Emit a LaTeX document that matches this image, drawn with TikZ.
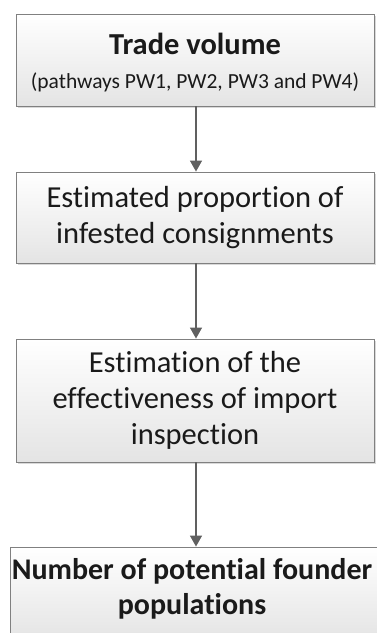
\documentclass[tikz,border=0pt]{standalone}
\usepackage{fontspec}
\setmainfont{Carlito}[Ligatures=NoCommon]
\usetikzlibrary{arrows.meta,shadows}
\definecolor{boxline}{HTML}{808080}
\definecolor{arrowc}{HTML}{606060}
\definecolor{boxbot}{HTML}{E4E4E4}
\definecolor{txt}{HTML}{1A1A1A}
\tikzset{
  stepbox/.style={draw=boxline, line width=0.9pt, top color=white, bottom color=boxbot,
    minimum width=358pt, inner sep=0pt, text=txt, align=center,
    drop shadow={shadow xshift=1.5pt, shadow yshift=-1.5pt, fill=black, opacity=0.15}},
  flow/.style={draw=arrowc, line width=1.4pt, -{Triangle[width=12pt,length=11pt]}},
  big/.style={font=\fontsize{30.5}{36}\selectfont}
}
\begin{document}
\begin{tikzpicture}[x=1pt,y=-1pt]
\useasboundingbox (0,0) rectangle (376,633);
\node[stepbox, minimum height=92pt] (b1) at (195,60) {};
\node[text=txt, align=center, font=\fontsize{30.5}{36}\selectfont\bfseries] (t1a) at (195,44) {Trade volume};
\node[text=txt, align=center, font=\fontsize{21.5}{25}\selectfont] (t1b) at (195,82) {(pathways PW1, PW2, PW3 and PW4)};
\node[stepbox, minimum height=91pt, big] (b2) at (195,217.5) {Estimated proportion of\\infested consignments};
\node[stepbox, minimum height=123pt, big] (b3) at (195,400.5) {Estimation of the\\effectiveness of import\\inspection};
\node[stepbox, minimum width=374pt, minimum height=93pt] (b4) at (197,593.5) {};
\node[text=txt, align=center, font=\fontsize{30}{35}\selectfont\bfseries] (t4) at (192,589) {Number of potential founder\\populations};
\draw[flow] (b1.south -| 196,0) -- (b2.north -| 196,0);
\draw[flow] (b2.south -| 196,0) -- (b3.north -| 196,0);
\draw[flow] (b3.south -| 196,0) -- (b4.north -| 196,0);
\end{tikzpicture}
\end{document}
